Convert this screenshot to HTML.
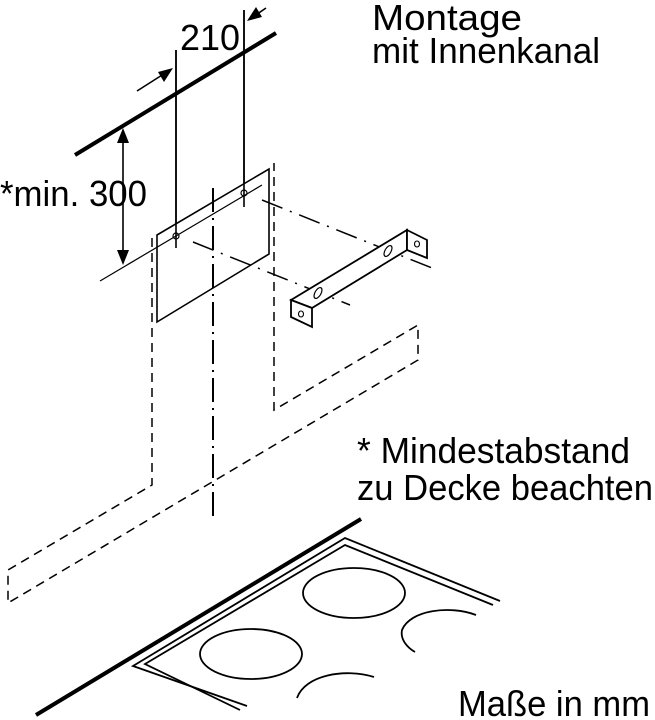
<!DOCTYPE html>
<html><head><meta charset="utf-8"><style>
html,body{margin:0;padding:0;background:#fff}
svg{display:block}
text{font-family:"Liberation Sans",Arial,sans-serif;fill:#000}
</style></head><body>
<svg width="655" height="720" viewBox="0 0 655 720" xmlns="http://www.w3.org/2000/svg">
<g fill="none" stroke="#000" stroke-width="1.6">
<line x1="75" y1="155" x2="276" y2="33" stroke-width="4"/>
<line x1="176" y1="50" x2="176" y2="248"/>
<line x1="244" y1="10" x2="244" y2="207"/>
<line x1="137" y1="91" x2="170" y2="70"/>
<line x1="266" y1="8" x2="250" y2="19"/>
<line x1="123" y1="140" x2="123" y2="252"/>
<polygon points="157,235 269,169 269,254 157,322" fill="#fff"/>
<line x1="100" y1="281" x2="262" y2="185" stroke-width="1.2"/>
<line x1="176" y1="50" x2="176" y2="248"/>
<line x1="244" y1="10" x2="244" y2="207"/>
<circle cx="176" cy="236" r="3" stroke-width="1.2"/>
<circle cx="244" cy="193" r="3" stroke-width="1.2"/>
<g stroke-dasharray="9,6" stroke-width="1.5">
<polyline points="152,238 152,485 8,570 8,603 418,360 418,325 274,410 274,163"/>
</g>
<line x1="213" y1="188" x2="213" y2="522" stroke-dasharray="24,6,2,6" stroke-width="2"/>
<line x1="262" y1="200" x2="432" y2="268" stroke-dasharray="22,8,2,8" stroke-width="1.5"/>
<line x1="193" y1="242" x2="350" y2="305" stroke-dasharray="22,8,2,8" stroke-width="1.5"/>
<g fill="#fff" stroke-width="1.8">
<polygon points="291,300 407,230 407,250 312,308"/>
<polygon points="407,230 427,240 427,258 407,250"/>
<polygon points="291,300 312,308 312,327 291,317"/>
</g>
<ellipse cx="318" cy="293" rx="3" ry="6" transform="rotate(30 318 293)" stroke-width="1.2"/>
<ellipse cx="388" cy="251" rx="3" ry="6" transform="rotate(30 388 251)" stroke-width="1.2"/>
<ellipse cx="417" cy="244" rx="2.5" ry="3" stroke-width="1.1"/>
<ellipse cx="301" cy="314" rx="2.5" ry="3" stroke-width="1.1"/>
<line x1="361" y1="519" x2="36" y2="715" stroke-width="4"/>
<polyline points="500,601 345,538 133,666 247,706" stroke-width="1.8"/>
<polyline points="493,605 345,545 145,664 240,710" stroke-width="1.8"/>
<ellipse cx="354" cy="593" rx="51" ry="25" stroke-width="1.8"/>
<ellipse cx="251" cy="654" rx="51" ry="25" stroke-width="1.8"/>
<path d="M476,615 C450,605 410,610 402,630 C400,640 408,648 415,652" stroke-width="1.8"/>
<path d="M374,677 C345,668 305,675 297,698" stroke-width="1.8"/>
</g>
<g fill="#000">
<polygon points="173,68 158,72 164,82"/>
<polygon points="247,21 262,17 256,7"/>
<polygon points="123,128 117,143 129,143"/>
<polygon points="123,265 117,250 129,250"/>
</g>
<g font-size="36">
<text x="180" y="50" textLength="60" lengthAdjust="spacingAndGlyphs">210</text>
<text x="372" y="30" textLength="150" lengthAdjust="spacingAndGlyphs">Montage</text>
<text x="372" y="63" textLength="228" lengthAdjust="spacingAndGlyphs">mit Innenkanal</text>
<text x="0" y="206" textLength="147" lengthAdjust="spacingAndGlyphs">*min. 300</text>
<text x="357" y="463" textLength="273" lengthAdjust="spacingAndGlyphs">* Mindestabstand</text>
<text x="357" y="500" textLength="296" lengthAdjust="spacingAndGlyphs">zu Decke beachten</text>
<text x="458" y="716" textLength="192" lengthAdjust="spacingAndGlyphs">Maße in mm</text>
</g>
</svg>
</body></html>
